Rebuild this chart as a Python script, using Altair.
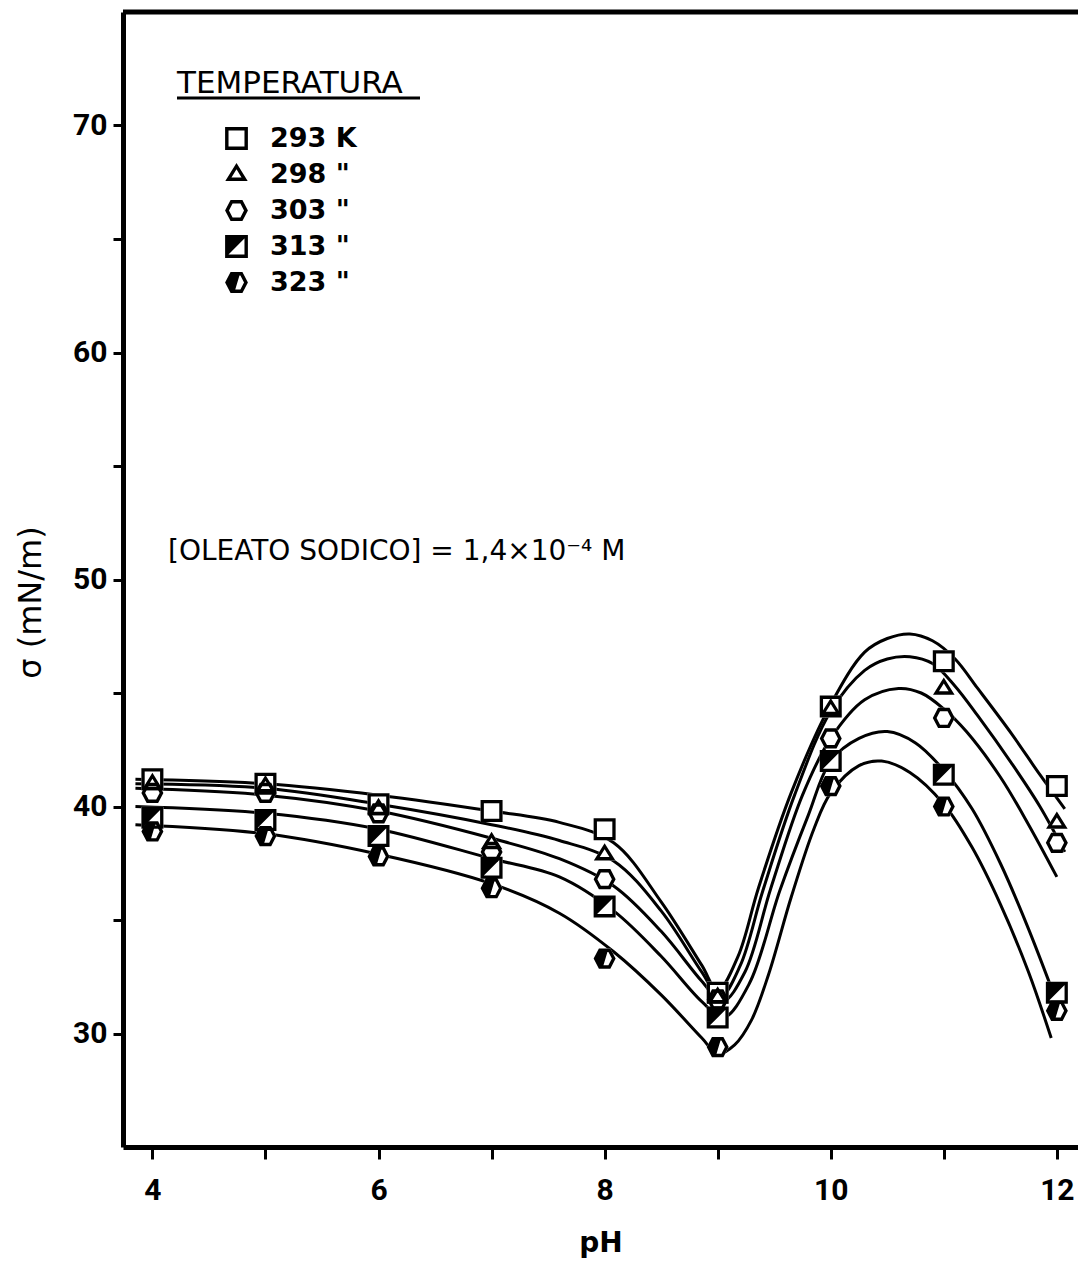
import altair as alt
import pandas as pd

# ---------------- data ----------------
temperatures = ["293 K", "298 \"", "303 \"", "313 \"", "323 \""]

ph_values = [4, 5, 6, 7, 8, 9, 10, 11, 12]
sigma_293 = [41.2, 41.0, 40.1, 39.8, 39.0, 31.8, 44.4, 46.4, 40.9]
sigma_298 = [41.0, 40.9, 39.9, 38.4, 37.9, 31.6, 44.3, 45.2, 39.3]
sigma_303 = [40.6, 40.6, 39.7, 38.0, 36.8, 31.5, 43.0, 43.9, 38.4]
sigma_313 = [39.5, 39.4, 38.7, 37.3, 35.6, 30.7, 42.0, 41.4, 31.8]
sigma_323 = [38.9, 38.7, 37.8, 36.4, 33.3, 29.4, 40.9, 40.0, 31.0]

# hand-drawn fitted curves
curve_ph_293 = [3.85, 5, 6, 7, 7.6, 8.08, 8.5, 8.86, 9.0, 9.18, 9.36, 9.65, 10.0, 10.3, 10.5, 10.7, 10.9, 11.1, 11.3, 11.6, 11.85, 12.07]
curve_sg_293 = [41.2, 41.0, 40.5, 39.8, 39.3, 38.4, 35.8, 33.0, 31.9, 33.4, 36.4, 40.6, 44.5, 46.8, 47.4, 47.6, 47.3, 46.5, 45.2, 43.2, 41.4, 39.9]
curve_ph_298 = [3.85, 5, 6, 7, 7.6, 8.08, 8.5, 8.86, 9.02, 9.2, 9.4, 9.68, 10.0, 10.3, 10.5, 10.7, 10.9, 11.1, 11.3, 11.6, 11.85, 12.07]
curve_sg_298 = [41.0, 40.8, 40.1, 39.2, 38.5, 37.6, 35.4, 32.7, 31.6, 33.0, 36.3, 40.5, 44.2, 46.0, 46.5, 46.6, 46.3, 45.3, 44.0, 41.9, 40.0, 38.0]
curve_ph_303 = [3.85, 5, 6, 7, 7.6, 8.08, 8.5, 8.86, 9.04, 9.24, 9.47, 9.75, 10.0, 10.3, 10.6, 10.8, 11.0, 11.2, 11.5, 11.75, 12.0]
curve_sg_303 = [40.8, 40.5, 39.8, 38.6, 37.7, 36.5, 34.5, 32.3, 31.4, 32.7, 36.4, 40.5, 43.0, 44.7, 45.2, 45.0, 44.3, 43.3, 41.3, 39.2, 36.9]
curve_ph_313 = [3.85, 5, 6, 7, 7.6, 8.08, 8.5, 8.86, 9.05, 9.28, 9.55, 9.8, 10.0, 10.25, 10.5, 10.75, 11.0, 11.25, 11.5, 11.75, 12.05]
curve_sg_313 = [40.0, 39.7, 39.0, 37.7, 36.9, 35.4, 33.4, 31.4, 30.7, 32.2, 36.3, 39.6, 42.0, 43.0, 43.3, 42.8, 41.6, 39.9, 37.5, 34.6, 30.7]
curve_ph_323 = [3.85, 5, 6, 7, 7.6, 8.08, 8.5, 8.86, 9.0, 9.15, 9.3, 9.45, 9.65, 9.85, 10.0, 10.25, 10.45, 10.7, 11.0, 11.25, 11.5, 11.75, 11.95]
curve_sg_323 = [39.2, 38.8, 37.9, 36.6, 35.3, 33.6, 31.7, 29.8, 29.1, 29.5, 30.6, 32.6, 36.0, 39.0, 40.6, 41.8, 42.0, 41.5, 40.1, 38.2, 35.7, 32.7, 29.8]

annotation_text = "[OLEATO SODICO] = 1,4×10⁻⁴ M"
legend_title = "TEMPERATURA"
x_title = "pH"
y_title = "σ  (mN/m)"

# ---------------- tables ----------------
series_points = [sigma_293, sigma_298, sigma_303, sigma_313, sigma_323]
series_curves = [(curve_ph_293, curve_sg_293), (curve_ph_298, curve_sg_298), (curve_ph_303, curve_sg_303),
                 (curve_ph_313, curve_sg_313), (curve_ph_323, curve_sg_323)]

pts_rows = []
for t, vals in zip(temperatures, series_points):
    for p, v in zip(ph_values, vals):
        pts_rows.append({"temp": t, "ph": p, "sigma": v})
points = pd.DataFrame(pts_rows)

cur_rows = []
for t, (phs, vals) in zip(temperatures, series_curves):
    for i, (p, v) in enumerate(zip(phs, vals)):
        cur_rows.append({"temp": t, "ph": p, "sigma": v, "order": i})
curves = pd.DataFrame(cur_rows)

# ---------------- marker shapes (SVG paths in unit square) ----------------
def poly(pts):
    return "M" + " L".join(f"{x:.3f},{y:.3f}" for x, y in pts) + " Z"

def inner(pts, k):
    return [(x * k, y * k) for x, y in reversed(pts)]

SQ = [(-1, -1), (1, -1), (1, 1), (-1, 1)]
TRI = [(0, -1.0), (0.98, 0.58), (-0.98, 0.58)]
HEX = [(-1, 0), (-0.52, -0.92), (0.52, -0.92), (1, 0), (0.52, 0.92), (-0.52, 0.92)]
SQ_HALF = [(-1, -1), (1, -1), (-1, 1)]
HEX_HALF = [(-1, 0), (-0.52, -0.92), (0.35, -0.92), (-0.2, 0.92), (-0.52, 0.92)]

open_square = poly(SQ) + " " + poly(inner(SQ, 0.70))
open_tri = poly(TRI) + " " + poly(inner(TRI, 0.45))
open_hex = poly(HEX) + " " + poly(inner(HEX, 0.66))
half_square = open_square + " " + poly(SQ_HALF)
half_hex = open_hex + " " + poly(HEX_HALF)

marker_paths = [open_square, open_tri, open_hex, half_square, half_hex]
solid_paths = [poly(SQ), poly(TRI), poly(HEX), poly(SQ), poly(HEX)]

# ---------------- styling ----------------
SANS = "DejaVu Sans"
TICKFONT = "Roboto, Liberation Sans, DejaVu Sans"
W, H = 955, 1135

xscale = alt.Scale(domain=[3.74, 12.187], nice=False, zero=False)
yscale = alt.Scale(domain=[25, 75], nice=False, zero=False)

x_axis = alt.Axis(
    values=list(range(4, 13)),
    labelExpr="datum.value % 2 === 0 ? datum.label : ''",
    title=x_title, titleFont=SANS, titleFontSize=28, titleFontWeight="bold", titleColor="black",
    titleY=104, titleBaseline="alphabetic",
    labelFont=TICKFONT, labelFontSize=30, labelFontWeight="bold", labelColor="black",
    labelPadding=16, labelFlush=False, labelOverlap=False,
    tickSize=12, tickWidth=3, tickColor="black",
    domainColor="black", domainWidth=5, grid=False,
)
y_axis = alt.Axis(
    values=[30, 35, 40, 45, 50, 55, 60, 65, 70],
    labelExpr="datum.value % 10 === 0 ? datum.label : ''",
    title=y_title, titleFont=SANS, titleFontSize=32, titleFontWeight="normal", titleColor="black",
    titleX=-93, titleY=590, titleAngle=-90, titleAlign="center", titleBaseline="middle",
    labelFont=TICKFONT, labelFontSize=30, labelFontWeight="bold", labelColor="black",
    labelPadding=6, labelFlush=False, labelOverlap=False,
    tickSize=10, tickWidth=3, tickColor="black",
    domainColor="black", domainWidth=5, grid=False,
)

X = alt.X("ph:Q", scale=xscale, axis=x_axis)
Y = alt.Y("sigma:Q", scale=yscale, axis=y_axis)

lines = alt.Chart(curves).mark_line(color="black", strokeWidth=3, interpolate="catmull-rom").encode(
    x=X, y=Y, detail="temp:N", order="order:Q"
)

under = alt.Chart(points).mark_point(filled=True, color="white", size=484, opacity=1, strokeWidth=0).encode(
    x=X, y=Y,
    shape=alt.Shape("temp:N", scale=alt.Scale(domain=temperatures, range=solid_paths), legend=None),
)

markers = alt.Chart(points).mark_point(filled=True, color="black", size=484, opacity=1, strokeWidth=0).encode(
    x=X, y=Y,
    shape=alt.Shape(
        "temp:N",
        scale=alt.Scale(domain=temperatures, range=marker_paths),
        legend=alt.Legend(
            orient="none", legendX=54, legendY=57,
            title=legend_title, titleFont=SANS, titleFontSize=31, titleFontWeight="normal",
            titleColor="black", titlePadding=25, titleAnchor="start", titleLimit=600,
            labelFont=SANS, labelFontSize=27, labelFontWeight="bold", labelColor="black",
            labelLimit=300, labelOffset=20, symbolOffset=46, symbolSize=520, rowPadding=8,
            symbolFillColor="black", symbolStrokeWidth=0, symbolOpacity=1,
        ),
    ),
)

one = pd.DataFrame({"k": [0]})
top_border = alt.Chart(one).mark_rule(color="black", strokeWidth=5).encode(
    x=alt.value(0), x2=alt.value(W), y=alt.value(0)
)
title_underline = alt.Chart(one).mark_rule(color="black", strokeWidth=3).encode(
    x=alt.value(54), x2=alt.value(297), y=alt.value(86)
)
annotation = alt.Chart(pd.DataFrame({"label": [annotation_text]})).mark_text(
    align="left", baseline="middle", font=SANS, fontSize=28, color="black"
).encode(x=alt.value(45), y=alt.value(540), text="label:N")

chart = (
    alt.layer(lines, under, markers, top_border, title_underline, annotation)
    .resolve_scale(shape="independent")
    .properties(
        width=W, height=H,
        autosize=alt.AutoSizeParams(type="none"),
        padding={"left": 115, "top": 4, "right": 0, "bottom": 112},
        background="white",
    )
    .configure_view(stroke=None)
)

chart.save("out.html", embed_options={"renderer": "svg", "actions": False})
